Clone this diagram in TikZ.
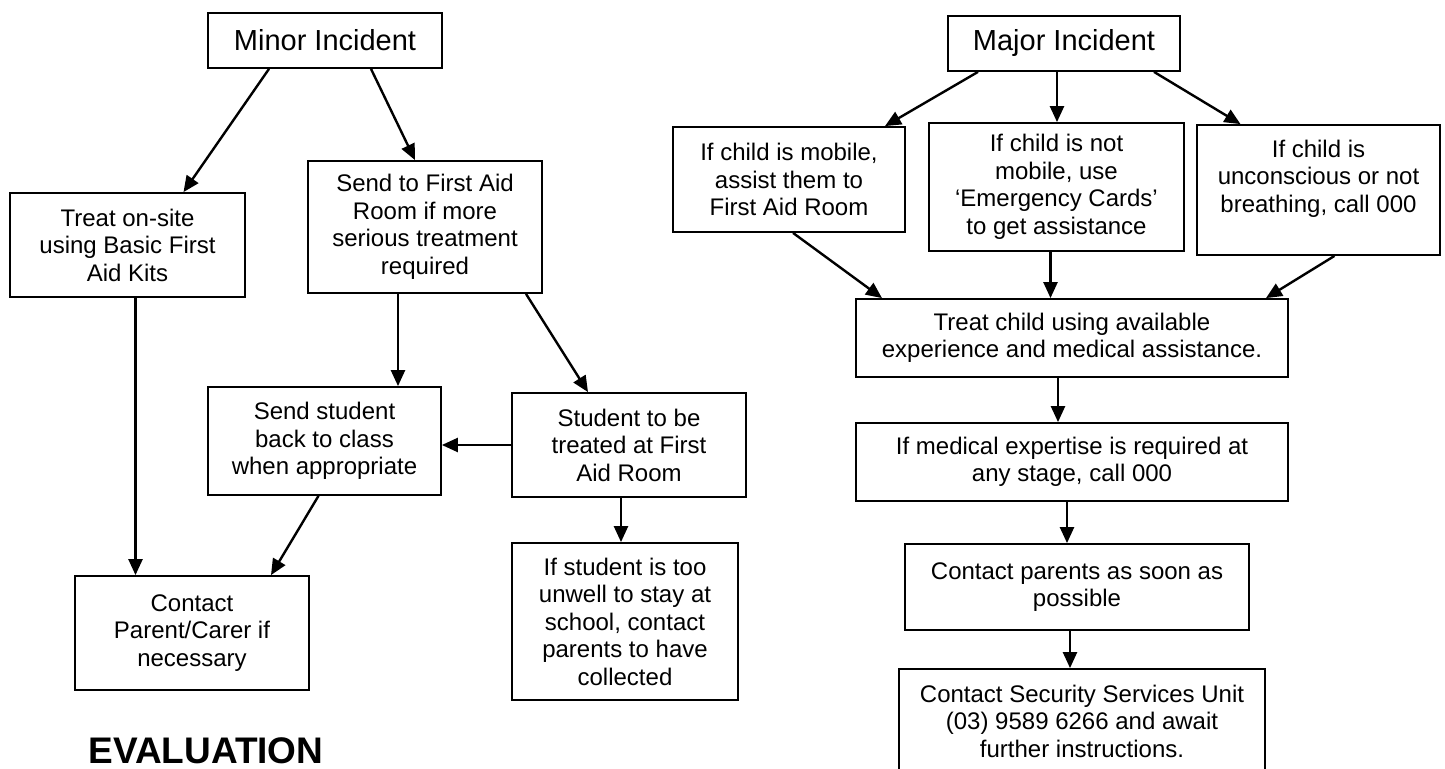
\documentclass[tikz,border=0pt]{standalone}
\usepackage{fontspec}
\setmainfont{Liberation Sans}
\usetikzlibrary{arrows.meta}

\tikzset{
  box/.style={draw, line width=0.9pt, align=center, inner sep=2pt,
    font=\fontsize{12}{13.75}\selectfont},
  titlebox/.style={box, font=\fontsize{14.5}{17}\selectfont},
  arr/.style={line width=1.2pt, -{Triangle[length=8pt,width=7pt]}},
}

\begin{document}
\begin{tikzpicture}[x=0.5pt, y=-0.5pt]
  \useasboundingbox (0,0) rectangle (1445,769);

  % Minor incident side
  \node[titlebox, minimum width=117pt, minimum height=27.5pt] (minor) at (325,40.5) {Minor Incident};
  \node[box, minimum width=117.5pt, minimum height=52pt] (onsite) at (127.5,245) {Treat on-site\\ using Basic First\\ Aid Kits};
  \node[box, minimum width=117pt, minimum height=66pt] (sendfa) at (425,227) {Send to First Aid\\ Room if more\\ serious treatment\\ required};
  \node[box, minimum width=116.5pt, minimum height=54pt] (backclass) at (324.5,441) {Send student\\ back to class\\ when appropriate};
  \node[box, minimum width=117pt, minimum height=52pt] (treated) at (629,445) {Student to be\\ treated at First\\ Aid Room};
  \node[box, minimum width=117pt, minimum height=57pt] (contact) at (192,633) {Contact\\ Parent/Carer if\\ necessary};
  \node[box, minimum width=113pt, minimum height=78.5pt] (unwell) at (625,621.5) {If student is too\\ unwell to stay at\\ school, contact\\ parents to have\\ collected};

  \draw[arr] ([xshift=-28pt]minor.south) -- ([xshift=28pt]onsite.north);
  \draw[arr] ([xshift=23pt]minor.south) -- ([xshift=-5pt]sendfa.north);
  \draw[arr] ([xshift=4pt]onsite.south) -- ([xshift=4pt]onsite.south |- contact.north);
  \draw[arr] ([xshift=-13.5pt]sendfa.south) -- ([xshift=-13.5pt]sendfa.south |- backclass.north);
  \draw[arr] ([xshift=50.5pt]sendfa.south) -- ([xshift=-20.5pt]treated.north);
  \draw[arr] (treated.west) -- (treated.west -| backclass.east);
  \draw[arr] ([xshift=-3pt]backclass.south) -- ([xshift=39.5pt]contact.north);
  \draw[arr] ([xshift=-4pt]treated.south) -- ([xshift=-4pt]treated.south |- unwell.north);

  \node[anchor=base west, inner sep=0pt, font=\fontsize{18.5}{20}\selectfont\bfseries] (evaluation) at (88,763) {EVALUATION};

  % Major incident side
  \node[titlebox, minimum width=116pt, minimum height=27.5pt] (major) at (1064,43.5) {Major Incident};
  \node[box, minimum width=116pt, minimum height=52.5pt] (mobile) at (789,179.5) {If child is mobile,\\ assist them to\\ First Aid Room};
  \node[box, minimum width=127.5pt, minimum height=64pt] (notmobile) at (1056.5,187) {If child is not\\ mobile, use\\ ‘Emergency Cards’\\ to get assistance};
  \node[box, minimum width=121.5pt, minimum height=65pt] (unconscious) at (1318.5,190) {If child is\\ unconscious or not\\ breathing, call 000\\ \mbox{}};
  \node[box, minimum width=216pt, minimum height=39pt] (treatchild) at (1072,338) {Treat child using available\\ experience and medical assistance.};
  \node[box, minimum width=216pt, minimum height=39pt] (medical) at (1072,462) {If medical expertise is required at\\ any stage, call 000};
  \node[box, minimum width=172pt, minimum height=43pt] (parents) at (1077,587) {Contact parents as soon as\\ possible};
  \node[box, minimum width=183pt, minimum height=52pt] (security) at (1082,721) {Contact Security Services Unit\\ (03) 9589 6266 and await\\ further instructions.};

  \draw[arr] ([xshift=-43pt]major.south) -- ([xshift=48pt]mobile.north);
  \draw[arr] ([xshift=-3.5pt]major.south) -- ([xshift=-3.5pt]major.south |- notmobile.north);
  \draw[arr] ([xshift=45pt]major.south) -- ([xshift=-39pt]unconscious.north);
  \draw[arr] ([xshift=2pt]mobile.south) -- ([xshift=-95pt]treatchild.north);
  \draw[arr] ([xshift=-3pt]notmobile.south) -- ([xshift=-3pt]notmobile.south |- treatchild.north);
  \draw[arr] ([xshift=8pt]unconscious.south) -- ([xshift=97pt]treatchild.north);
  \draw[arr] ([xshift=-7pt]treatchild.south) -- ([xshift=-7pt]treatchild.south |- medical.north);
  \draw[arr] ([xshift=-2.5pt]medical.south) -- ([xshift=-2.5pt]medical.south |- parents.north);
  \draw[arr] ([xshift=-3.5pt]parents.south) -- ([xshift=-3.5pt]parents.south |- security.north);
\end{tikzpicture}
\end{document}
